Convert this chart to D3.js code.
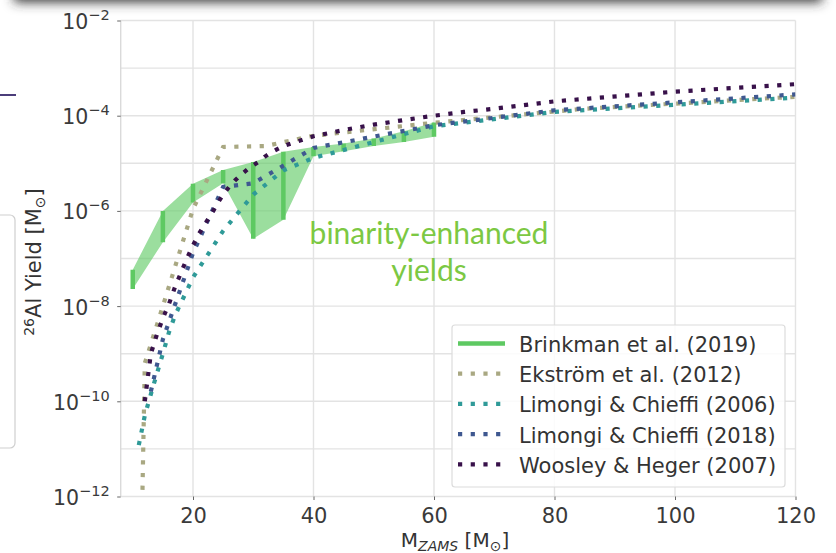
<!DOCTYPE html>
<html>
<head>
<meta charset="utf-8">
<script src="https://cdn.jsdelivr.net/npm/d3@7"></script>
<style>
  html, body { margin: 0; padding: 0; background: #fff; }
  svg { display: block; }
  text { font-family: "DejaVu Sans", sans-serif; }
</style>
</head>
<body>
<svg id="chart" width="836" height="553"></svg>
<script>
// 26Al yields of massive stars versus initial mass (M_ZAMS)

// Brinkman et al. (2019): single-star (low) and binary-enhanced (high) yields
const brinkmanMass = [10, 15, 20, 25, 30, 35, 40, 45, 50, 55, 60];
const brinkmanLow  = [2.3e-8, 2.2e-7, 1.5e-6, 3.8e-6, 2.6e-7, 6.5e-7, 1.4e-5, 1.8e-5, 2.3e-5, 2.8e-5, 3.6e-5];
const brinkmanHigh = [5.8e-8, 1.0e-6, 3.7e-6, 7.2e-6, 1.07e-5, 1.74e-5, 2.2e-5, 2.6e-5, 3.3e-5, 4.7e-5, 7.2e-5];

// Ekström et al. (2012)
const ekstromMass  = [9, 12, 15, 20, 25, 32, 40, 60, 85, 120];
const ekstromYield = [1e-30, 6.3e-10, 1.0e-8, 1.1e-6, 2.2e-5, 2.3e-5, 3.8e-5, 7.1e-5, 1.4e-4, 2.5e-4];

// Limongi & Chieffi (2006)
const lc06Mass  = [11, 12, 13, 14, 15, 16, 17, 20, 25, 30, 35, 40, 60, 80, 120];
const lc06Yield = [1.2e-11, 5.0e-11, 1.4e-10, 3.8e-10, 1.0e-9, 2.8e-9, 6.3e-9, 4.0e-8, 3.8e-7, 2.2e-6, 7.1e-6, 1.3e-5, 6.0e-5, 1.2e-4, 2.4e-4];

// Limongi & Chieffi (2018)
const lc18Mass  = [13, 15, 20, 25, 30, 40, 60, 80, 120];
const lc18Yield = [1.6e-10, 2.0e-9, 1.3e-7, 3.2e-6, 3.8e-6, 2.1e-5, 6.3e-5, 1.3e-4, 2.8e-4];

// Woosley & Heger (2007)
const whMass  = [12, 13, 14, 15, 16, 17, 18, 19, 20, 21, 22, 23, 24, 25, 26, 27, 28, 29, 30, 31, 32, 33, 35, 40, 45, 50, 55, 60, 65, 70, 80, 100, 120];
const whYield = [1.0e-10, 1.0e-9, 2.5e-9, 5.6e-9, 1.1e-8, 2.5e-8, 5.0e-8, 1.0e-7, 1.9e-7, 3.3e-7, 5.4e-7, 8.3e-7, 1.4e-6, 2.2e-6, 3.2e-6, 4.4e-6, 5.8e-6, 7.4e-6, 9.1e-6, 1.1e-5, 1.4e-5, 1.7e-5, 2.3e-5, 3.7e-5, 5.0e-5, 6.5e-5, 8.1e-5, 1.0e-4, 1.2e-4, 1.4e-4, 2.0e-4, 3.2e-4, 4.6e-4];

const xTicks = [20, 40, 60, 80, 100, 120];
const yTickExp = [-2, -4, -6, -8, -10, -12];
const yGridExp = [-2, -3, -4, -5, -6, -7, -8, -9, -10, -11, -12];

const legendLabels = ["Brinkman et al. (2019)", "Ekström et al. (2012)", "Limongi & Chieffi (2006)", "Limongi & Chieffi (2018)", "Woosley & Heger (2007)"];
const seriesColors = ["#5ec962", "#a9a882", "#2f9a98", "#3f5890", "#38114a"];

const svg = d3.select("#chart");
const plot = { left: 120.7, right: 795.5, top: 20.5, bottom: 496.5 };

const x = d3.scaleLinear().domain([8, 120]).range([plot.left, plot.right]);
const y = d3.scaleLog().domain([1e-12, 1e-2]).range([plot.bottom, plot.top]);

const defs = svg.append("defs");
defs.append("filter").attr("id", "soft").attr("x", "-10%").attr("y", "-200%").attr("width", "120%").attr("height", "500%")
  .append("feGaussianBlur").attr("stdDeviation", 6);
defs.append("clipPath").attr("id", "plotclip").append("rect")
  .attr("x", plot.left).attr("y", plot.top)
  .attr("width", plot.right - plot.left).attr("height", plot.bottom - plot.top);

// slide decorations around the figure
svg.append("rect").attr("x", 14).attr("y", -30).attr("width", 808).attr("height", 32)
  .attr("fill", "#333").attr("filter", "url(#soft)");
svg.append("line").attr("x1", 0).attr("x2", 16).attr("y1", 95).attr("y2", 95)
  .attr("stroke", "#4b3d7a").attr("stroke-width", 2);
svg.append("rect").attr("x", -8).attr("y", 215).attr("width", 23).attr("height", 233).attr("rx", 5)
  .attr("fill", "#fff").attr("stroke", "#cfcfcf").attr("stroke-width", 1.2);

// grid
const grid = svg.append("g");
grid.selectAll("line.gy").data(yGridExp).join("line")
  .attr("x1", plot.left).attr("x2", plot.right)
  .attr("y1", d => y(Math.pow(10, d))).attr("y2", d => y(Math.pow(10, d)))
  .attr("stroke", "#e3e3e3").attr("stroke-width", 1.4);
grid.selectAll("line.gx").data(xTicks).join("line")
  .attr("x1", d => x(d)).attr("x2", d => x(d))
  .attr("y1", plot.top).attr("y2", plot.bottom)
  .attr("stroke", "#e3e3e3").attr("stroke-width", 1.4);
grid.append("line").attr("x1", plot.left).attr("x2", plot.left).attr("y1", plot.top).attr("y2", plot.bottom)
  .attr("stroke", "#dadada").attr("stroke-width", 1.4);

// axes
const xAxis = svg.append("g").attr("transform", `translate(0,${plot.bottom})`)
  .call(d3.axisBottom(x).tickValues(xTicks).tickSize(3.5).tickPadding(8).tickFormat(d3.format("d")));
xAxis.select(".domain").remove();
xAxis.selectAll(".tick line").attr("stroke", "#666");
xAxis.selectAll(".tick text").attr("font-size", 21).attr("fill", "#3a3a3a")
  .attr("font-family", "DejaVu Sans");

const yAxis = svg.append("g").attr("transform", `translate(${plot.left},0)`)
  .call(d3.axisLeft(y).tickValues(yTickExp.map(e => Math.pow(10, e))).tickSize(3.5).tickFormat(""));
yAxis.select(".domain").remove();
yAxis.selectAll(".tick line").attr("stroke", "#666");
yAxis.selectAll(".tick").each(function (d) {
  const e = Math.round(Math.log10(d));
  const t = d3.select(this).append("text")
    .attr("x", -11).attr("y", 8).attr("text-anchor", "end")
    .attr("fill", "#3a3a3a").attr("font-family", "DejaVu Sans").attr("font-size", 20.5);
  t.append("tspan").text("10");
  t.append("tspan").attr("dy", -9).attr("font-size", 14.5).text("\u2212" + Math.abs(e));
});

// centre a text element on a point of its own frame using its measured box
function centreOn(sel, cx) {
  const b = sel.node().getBBox();
  sel.attr("x", cx - b.width / 2);
}

// axis titles
const xl = svg.append("text").attr("x", 0).attr("y", 547)
  .attr("font-size", 20).attr("fill", "#333");
xl.append("tspan").text("M");
xl.append("tspan").attr("dy", 4).attr("font-size", 14).attr("font-style", "italic").text("ZAMS");
xl.append("tspan").attr("dy", -4).text(" [M");
xl.append("tspan").attr("dy", 4).attr("font-size", 14).text("\u2299");
xl.append("tspan").attr("dy", -4).text("]");
centreOn(xl, 455);

const ylG = svg.append("g").attr("transform", "translate(41,262) rotate(-90)");
const yl = ylG.append("text").attr("x", 0).attr("y", 0)
  .attr("font-size", 21).attr("fill", "#333");
yl.append("tspan").attr("dy", -7).attr("font-size", 14).text("26");
yl.append("tspan").attr("dy", 7).text("Al Yield [M");
yl.append("tspan").attr("dy", 4).attr("font-size", 14).text("\u2299");
yl.append("tspan").attr("dy", -4).text("]");
centreOn(yl, 0);

// data layers
const layer = svg.append("g").attr("clip-path", "url(#plotclip)");
const brinkman = brinkmanMass.map((m, i) => ({ m, lo: brinkmanLow[i], hi: brinkmanHigh[i] }));

layer.append("path").datum(brinkman)
  .attr("d", d3.area().x(d => x(d.m)).y0(d => y(d.lo)).y1(d => y(d.hi)))
  .attr("fill", seriesColors[0]).attr("fill-opacity", 0.62);
layer.selectAll("line.bar").data(brinkman).join("line")
  .attr("x1", d => x(d.m)).attr("x2", d => x(d.m))
  .attr("y1", d => y(d.lo)).attr("y2", d => y(d.hi))
  .attr("stroke", seriesColors[0]).attr("stroke-width", 4.5);

const line = d3.line().x(d => x(d[0])).y(d => y(d[1]));
const dotted = [
  [ekstromMass, ekstromYield],
  [lc06Mass, lc06Yield],
  [lc18Mass, lc18Yield],
  [whMass, whYield]
];
dotted.forEach(([ms, ys], k) => {
  layer.append("path").datum(ms.map((m, i) => [m, ys[i]]))
    .attr("d", line).attr("fill", "none")
    .attr("stroke", seriesColors[k + 1]).attr("stroke-width", 4.2)
    .attr("stroke-dasharray", "4.2 8.5");
});

// annotation
const ann = svg.append("g").attr("font-size", 30).attr("fill", "#7cc843").attr("text-anchor", "middle");
ann.append("text").attr("x", 429).attr("y", 244).style("font-family", "Lato, 'Open Sans', sans-serif").text("binarity-enhanced");
ann.append("text").attr("x", 429).attr("y", 281).style("font-family", "Lato, 'Open Sans', sans-serif").text("yields");

// legend
const leg = svg.append("g");
leg.append("rect").attr("x", 452).attr("y", 325).attr("width", 333).attr("height", 162).attr("rx", 3)
  .attr("fill", "#fff").attr("fill-opacity", 0.85).attr("stroke", "#dcdcdc").attr("stroke-width", 1.2);
legendLabels.forEach((lab, i) => {
  const by = 352 + i * 30.2;
  const h = leg.append("line").attr("x1", 458).attr("x2", 505).attr("y1", by - 8.5).attr("y2", by - 8.5)
    .attr("stroke", seriesColors[i]);
  if (i === 0) h.attr("stroke-width", 4.5);
  else h.attr("stroke-width", 4.2).attr("stroke-dasharray", "4.2 8.5");
  leg.append("text").attr("x", 519).attr("y", by).attr("font-size", 21).attr("fill", "#333").text(lab);
});
</script>
</body>
</html>
